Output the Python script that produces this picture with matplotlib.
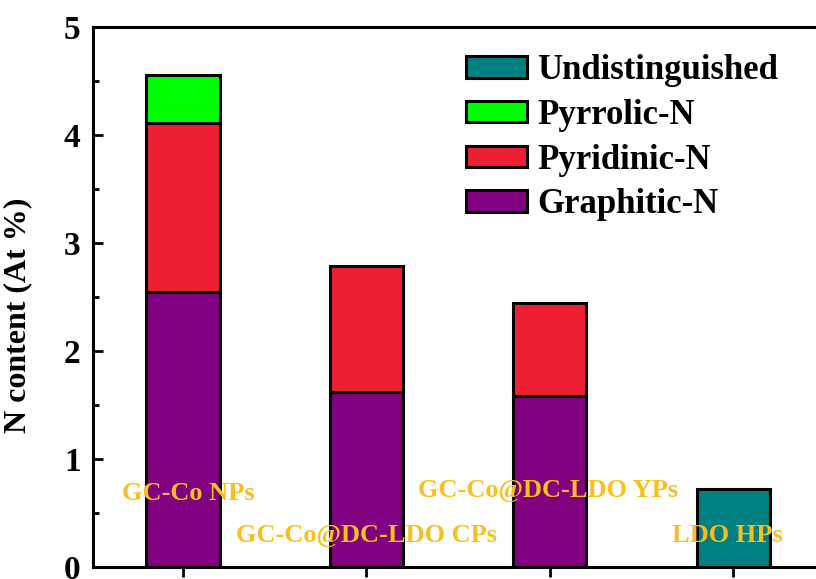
import matplotlib.pyplot as plt
from matplotlib.ticker import MultipleLocator

samples = ["GC-Co NPs", "GC-Co@DC-LDO CPs", "GC-Co@DC-LDO YPs", "LDO HPs"]
graphitic = [2.55, 1.62, 1.58, 0.0]
pyridinic = [1.56, 1.17, 0.86, 0.0]
pyrrolic = [0.45, 0.0, 0.0, 0.0]
undistinguished = [0.0, 0.0, 0.0, 0.72]

plt.rcParams["font.family"] = ["Liberation Serif", "DejaVu Serif"]
plt.rcParams["font.weight"] = "bold"

fig = plt.figure(figsize=(8.16, 5.79), dpi=100)
ax = fig.add_axes([0.114, 0.0207, 0.897, 0.9327])

x = [1, 2, 3, 4]
w = 0.4
edge = dict(edgecolor="black", linewidth=2.2, width=w)

b_gr = [g for g in graphitic]
b_py = [g + p for g, p in zip(graphitic, pyridinic)]

ax.bar(x, graphitic, color="#800080", label="Graphitic-N", **edge)
ax.bar(x[:3], pyridinic[:3], bottom=b_gr[:3], color="#EE1F32",
       label="Pyridinic-N", **edge)
ax.bar(x[:1], pyrrolic[:1], bottom=b_py[:1], color="#00FF00",
       label="Pyrrolic-N", **edge)
ax.bar(x[3:], undistinguished[3:], color="#008080",
       label="Undistinguished", **edge)

ax.set_xlim(0.51, 4.5)
ax.set_ylim(0, 5)
ax.set_xticks(x)
ax.set_xticklabels([])
ax.yaxis.set_major_locator(MultipleLocator(1))
ax.yaxis.set_minor_locator(MultipleLocator(0.5))
ax.tick_params(axis="y", which="major", direction="in", length=7, width=2,
               labelsize=24, pad=9)
ax.tick_params(axis="y", which="minor", direction="in", length=4, width=2)
ax.tick_params(axis="x", which="major", direction="out", length=7, width=2)
for s in ax.spines.values():
    s.set_linewidth(2.2)

ax.set_ylabel("N content (At %)", fontsize=23, fontweight="bold")
ax.yaxis.set_label_coords(-0.083, 0.467)

gold = "#F7BF1F"
label_pos = [(1.03, 0.62), (2.0, 0.23), (2.99, 0.65), (3.97, 0.23)]
for name, (tx, ty) in zip(samples, label_pos):
    ax.text(tx, ty, name, color=gold, fontsize=19, fontweight="bold",
            ha="center", va="baseline")

handles, labels = ax.get_legend_handles_labels()
order = [3, 2, 1, 0]
ax.legend([handles[i] for i in order], [labels[i] for i in order],
          loc="upper left", bbox_to_anchor=(0.5096, 0.95), frameon=False,
          borderpad=0, borderaxespad=0,
          prop={"size": 25, "weight": "bold"}, handlelength=1.76,
          handleheight=0.58, handletextpad=0.3, labelspacing=0.34)

fig.savefig("out.png", dpi=100)
